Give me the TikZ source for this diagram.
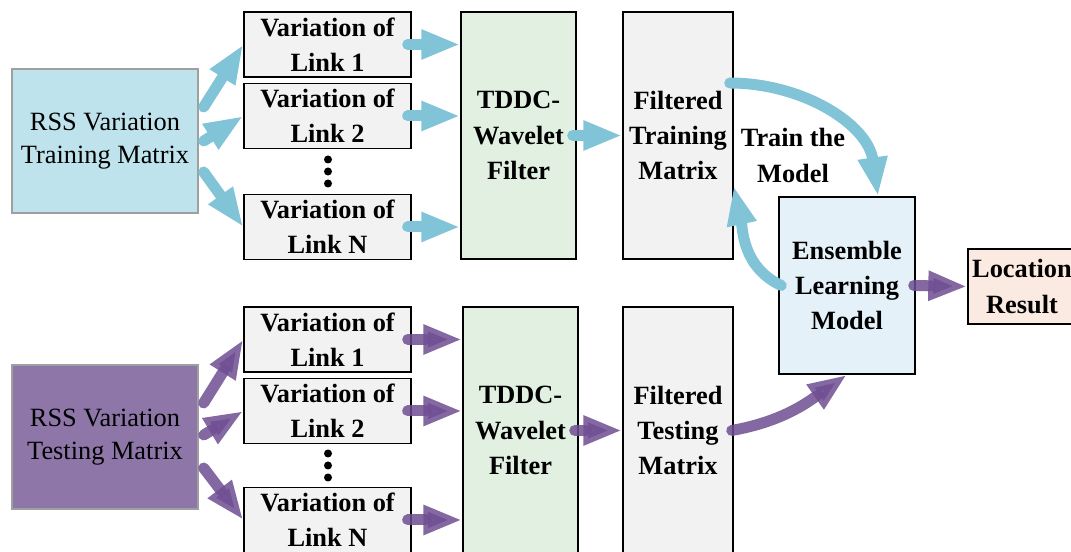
\documentclass[tikz,border=0pt]{standalone}
\usepackage{fontspec}
\setmainfont{Liberation Serif}
\usetikzlibrary{arrows.meta}
\definecolor{trainblue}{HTML}{BFE3EC}
\definecolor{testpurple}{HTML}{8E76A8}
\definecolor{arrowblue}{HTML}{82C4D7}
\definecolor{arrowpurple}{HTML}{6F4E92}
\definecolor{boxgray}{HTML}{F2F2F2}
\definecolor{filtergreen}{HTML}{E2F0E2}
\definecolor{modelblue}{HTML}{E5F1F8}
\definecolor{resultpink}{HTML}{FBEAE1}
\tikzset{
  % Plain box used by every stage
  stage/.style = {draw=black, line width=0.8pt, inner sep=0pt, align=center,
                  font=\fontsize{15}{20}\selectfont\bfseries},
  matrixbox/.style = {stage, draw=gray!75, font=\fontsize{15}{19}\selectfont,
                      minimum width=3.72cm, minimum height=2.88cm},
  linkbox/.style = {stage, fill=boxgray, minimum width=3.34cm, minimum height=1.3cm},
  filterbox/.style = {stage, fill=filtergreen, minimum width=2.3cm, minimum height=4.94cm},
  filteredbox/.style = {stage, fill=boxgray, minimum width=2.2cm, minimum height=4.94cm},
  % Thick block arrows
  blockarrow/.style = {line width=0.22cm, line cap=round,
                       -{Triangle[length=0.78cm,width=0.55cm]}},
  trainflow/.style = {blockarrow, arrowblue},
  testflow/.style = {blockarrow, arrowpurple, opacity=0.85}
}

\begin{document}
\begin{tikzpicture}
    \useasboundingbox (0,0) rectangle (21.42,-11.04);
    % Input matrices
    \node[matrixbox, fill=trainblue] (trainmat) at (2.10,-2.82) {RSS Variation\\Training Matrix};
    \node[matrixbox, fill=testpurple] (testmat) at (2.10,-8.74) {RSS Variation\\Testing Matrix};
    % Link variation boxes
    \foreach \name/\lab/\ypos in {trlinkA/1/-0.89, trlinkB/2/-2.32, trlinkN/N/-4.54,
                                  telinkA/1/-6.79, telinkB/2/-8.22, telinkN/N/-10.40}
    \node[linkbox] (\name) at (6.55,\ypos) {Variation of\\Link \lab};
    % Dots between link 2 and link N
    \foreach \ydot in {3.19,3.43,3.67,9.07,9.31,9.55}
    \fill[black] (6.56,-\ydot) circle (0.08cm);
    % Filters and filtered matrices
    \node[filterbox] (trfilter) at (10.37,-2.71) {TDDC-\\Wavelet\\Filter};
    \node[filterbox] (tefilter) at (10.41,-8.61) {TDDC-\\Wavelet\\Filter};
    \node[filteredbox] (trfiltered) at (13.56,-2.71) {Filtered\\Training\\Matrix};
    \node[filteredbox] (tefiltered) at (13.56,-8.61) {Filtered\\Testing\\Matrix};
    % Model and result
    \node[stage, fill=modelblue, minimum width=2.72cm, minimum height=3.54cm]
      (ensemble) at (16.94,-5.71) {Ensemble\\Learning\\Model};
    \node[stage, fill=resultpink, minimum width=2.16cm, minimum height=1.5cm]
      (location) at (20.44,-5.73) {Location\\Result};
    \node[font=\fontsize{15}{20}\selectfont\bfseries, align=center, inner sep=0pt]
      (trainlabel) at (15.86,-3.11) {Train the\\Model};
    % Matrix to link arrows
    \foreach \name/\dy in {trlinkA/0.68, trlinkB/0, trlinkN/-0.62}
    \draw[trainflow] ([shift={(0.1,\dy)}]trainmat.east) -- (\name.west);
    \foreach \name/\dy in {telinkA/0.68, telinkB/0.04, telinkN/-0.62}
    \draw[testflow] ([shift={(0.1,\dy)}]testmat.east) -- (\name.west);
    % Link to filter arrows
    \foreach \name in {trlinkA, trlinkB, trlinkN}
    \draw[trainflow] ([xshift=-0.08cm]\name.east) -- (\name.east -| trfilter.west);
    \foreach \name in {telinkA, telinkB, telinkN}
    \draw[testflow] ([xshift=-0.08cm]\name.east) -- (\name.east -| tefilter.west);
    % Filter to filtered matrix arrows
    \draw[trainflow] ([xshift=-0.08cm]trfilter.east) -- (trfiltered.west);
    \draw[testflow] ([xshift=-0.08cm]tefilter.east) -- (tefiltered.west);
    % Training loop with the model
    \draw[trainflow] ([shift={(-0.08,1.05)}]trfiltered.east) to[out=0,in=98]
      ([xshift=0.62cm]ensemble.north);
    \draw[trainflow] ([xshift=0.06cm]ensemble.west) to[out=155,in=-78]
      ([yshift=-1.01cm]trfiltered.east);
    % Testing matrix into the model, then the result
    \draw[testflow] ([xshift=-0.04cm]tefiltered.east) to[out=10,in=-145] (ensemble.south);
    \draw[testflow] ([xshift=-0.04cm]ensemble.east) -- (location.west);
\end{tikzpicture}
\end{document}
